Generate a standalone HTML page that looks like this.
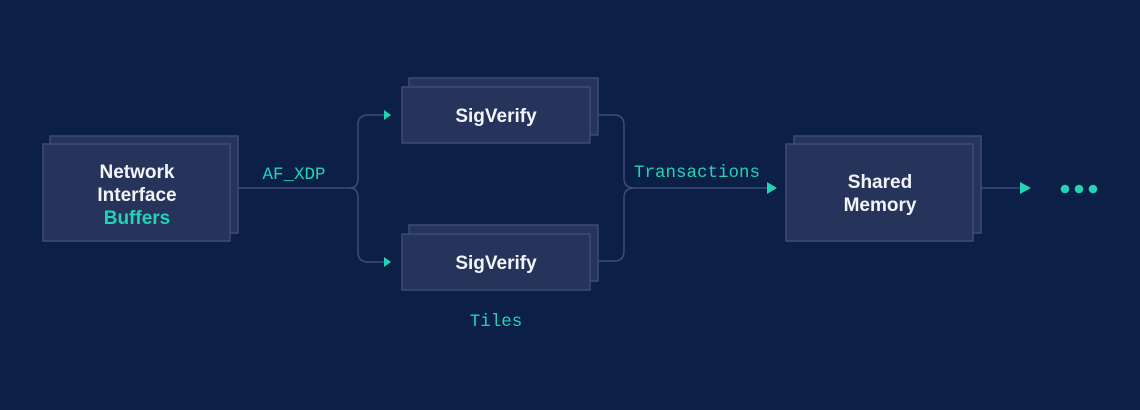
<!DOCTYPE html>
<html><head><style>
body{margin:0;background:#0c1f47;}
svg{display:block}
.b{fill:#26345b;stroke:#3c4c78;stroke-width:1.5}
.t{font-family:"Liberation Sans",sans-serif;font-weight:bold;font-size:19px;fill:#f2f4f8;text-anchor:middle}
.m{font-family:"Liberation Mono",monospace;font-size:17.5px;fill:#22d3b5;text-anchor:middle}
.l{fill:none;stroke:#3c4c78;stroke-width:1.5}
.a{fill:#22d3b5}
</style></head><body>
<svg width="1140" height="410" viewBox="0 0 1140 410">
<rect width="1140" height="410" fill="#0c1f47"/>
<!-- NIB -->
<rect class="b" x="50" y="136" width="188" height="97"/>
<rect class="b" x="43" y="144" width="187" height="97"/>
<text class="t" x="137" y="178">Network</text>
<text class="t" x="137" y="201">Interface</text>
<text class="t" x="137" y="224" style="fill:#22d3b5">Buffers</text>
<text class="m" x="294" y="179">AF_XDP</text>
<!-- fork lines -->
<path class="l" d="M238 188 H350 Q358 188 358 178 V125 Q358 115 368 115 H384"/>
<path class="l" d="M350 188 Q358 188 358 198 V252 Q358 262 368 262 H384"/>
<polygon class="a" points="384,110 391,115 384,120"/>
<polygon class="a" points="384,257 391,262 384,267"/>
<!-- SigVerify -->
<rect class="b" x="409" y="78" width="189" height="57"/>
<rect class="b" x="402" y="87" width="188" height="56"/>
<text class="t" x="496" y="122">SigVerify</text>
<rect class="b" x="409" y="225" width="189" height="56"/>
<rect class="b" x="402" y="234" width="188" height="56"/>
<text class="t" x="496" y="269">SigVerify</text>
<text class="m" x="496" y="326">Tiles</text>
<!-- join -->
<path class="l" d="M598 115 H614 Q624 115 624 125 V178 Q624 188 634 188"/>
<path class="l" d="M598 261 H614 Q624 261 624 251 V198 Q624 188 634 188 H770"/>
<polygon class="a" points="767,182 777,188 767,194"/>
<text class="m" x="697" y="177">Transactions</text>
<!-- Shared memory -->
<rect class="b" x="794" y="136" width="187" height="97"/>
<rect class="b" x="786" y="144" width="187" height="97"/>
<text class="t" x="880" y="188">Shared</text>
<text class="t" x="880" y="211">Memory</text>
<path class="l" d="M981 188 H1022"/>
<polygon class="a" points="1020,182 1031,188 1020,194"/>
<circle class="a" cx="1065" cy="189" r="4.3"/>
<circle class="a" cx="1079" cy="189" r="4.3"/>
<circle class="a" cx="1093" cy="189" r="4.3"/>
</svg>
</body></html>
